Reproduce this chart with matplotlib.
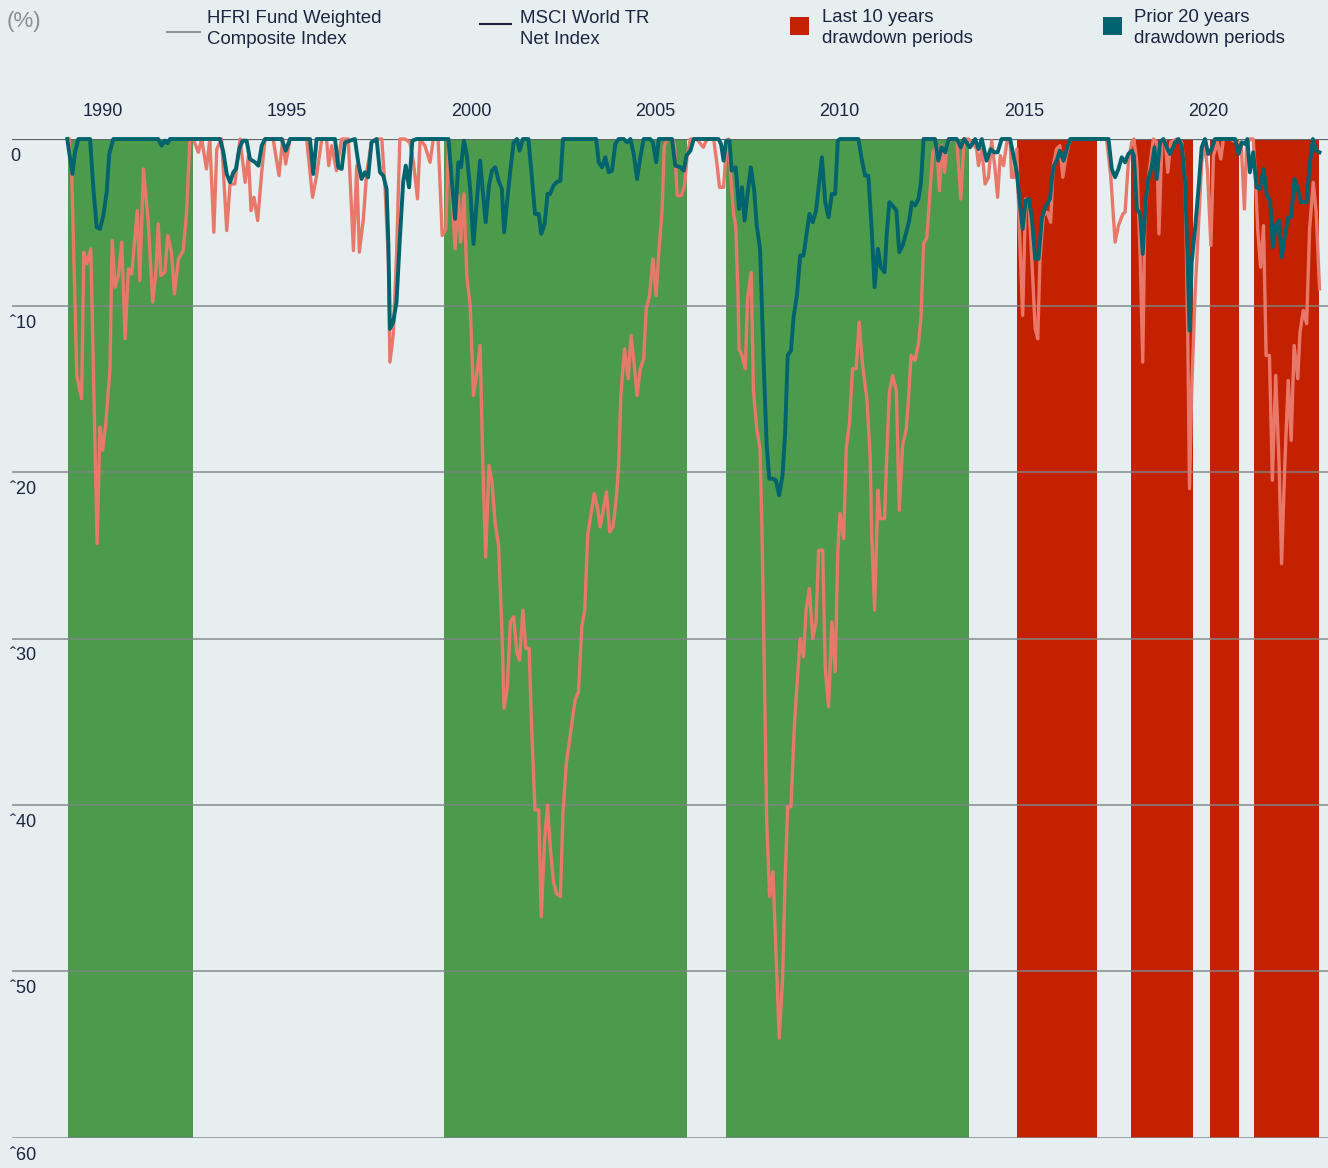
import matplotlib.pyplot as plt
from matplotlib.lines import Line2D
from matplotlib.patches import Rectangle

plt.rcParams['font.family'] = ['Liberation Sans', 'DejaVu Sans']

# drawdown series (%), dates as decimal years
hfri_years = [1989.03, 1989.17, 1989.24, 1989.33, 1989.65, 1989.74, 1989.83, 1989.92, 1990.01, 1990.10,
              1990.17, 1990.28, 1991.50, 1991.59, 1991.68, 1991.75, 1991.82, 1993.18, 1993.27, 1993.36,
              1993.45, 1993.54, 1993.61, 1993.70, 1993.79, 1993.90, 1993.99, 1994.13, 1994.22, 1994.31,
              1994.40, 1994.85, 1994.96, 1995.08, 1995.62, 1995.71, 1995.80, 1996.30, 1996.39, 1996.48,
              1996.57, 1996.84, 1996.93, 1997.02, 1997.11, 1997.20, 1997.29, 1997.43, 1997.52, 1997.61,
              1997.70, 1997.75, 1997.79, 1997.88, 1997.97, 1998.06, 1998.15, 1998.22, 1998.31, 1998.40,
              1998.52, 1999.38, 1999.47, 1999.56, 1999.65, 1999.72, 1999.80, 1999.88, 1999.97, 2000.06,
              2000.15, 2000.24, 2000.31, 2000.39, 2000.48, 2000.56, 2000.65, 2000.74, 2000.83, 2000.89,
              2000.98, 2001.06, 2001.15, 2001.24, 2001.31, 2001.40, 2001.55, 2001.63, 2001.73, 2001.83,
              2001.90, 2001.99, 2002.07, 2002.14, 2002.23, 2002.31, 2002.42, 2002.49, 2003.39, 2003.46,
              2003.55, 2003.64, 2003.73, 2003.82, 2003.91, 2004.00, 2004.14, 2004.23, 2004.32, 2004.41,
              2004.50, 2004.59, 2004.68, 2004.86, 2004.93, 2005.02, 2005.09, 2005.45, 2005.54, 2005.68,
              2005.77, 2005.84, 2005.95, 2006.04, 2006.71, 2006.78, 2006.85, 2006.92, 2007.01, 2007.07,
              2007.18, 2007.27, 2007.35, 2007.42, 2007.50, 2007.59, 2007.68, 2007.75, 2007.84, 2007.89,
              2007.95, 2008.02, 2008.09, 2008.19, 2008.27, 2008.36, 2008.45, 2008.52, 2008.59, 2008.68,
              2008.75, 2008.84, 2008.93, 2009.02, 2009.09, 2009.18, 2009.27, 2009.36, 2009.43, 2009.52,
              2009.61, 2009.70, 2009.79, 2009.88, 2009.95, 2010.01, 2010.51, 2010.60, 2010.69, 2010.78,
              2010.87, 2010.95, 2011.04, 2011.12, 2011.22, 2011.28, 2011.35, 2011.44, 2011.54, 2011.62,
              2011.71, 2011.81, 2011.89, 2011.96, 2012.05, 2012.14, 2012.21, 2012.28, 2012.59, 2012.68,
              2012.77, 2012.87, 2012.96, 2013.18, 2013.29, 2013.38, 2013.54, 2013.68, 2013.77, 2013.86,
              2013.99, 2014.10, 2014.20, 2014.29, 2014.40, 2014.63, 2014.72, 2014.81, 2014.90, 2014.97,
              2015.05, 2015.14, 2015.22, 2015.31, 2015.40, 2015.49, 2015.58, 2015.71, 2015.80, 2015.89,
              2015.98, 2016.08, 2016.17, 2016.26, 2017.30, 2017.39, 2017.48, 2017.57, 2017.66, 2017.75,
              2017.84, 2017.93, 2017.99, 2018.07, 2018.16, 2018.23, 2018.31, 2018.38, 2018.47, 2018.55,
              2018.61, 2018.70, 2018.79, 2018.88, 2018.97, 2019.11, 2019.20, 2019.29, 2019.38, 2019.45,
              2019.50, 2019.56, 2019.65, 2019.74, 2019.83, 2019.92, 2020.01, 2020.10, 2020.19, 2020.74,
              2020.83, 2020.92, 2021.01, 2021.07, 2021.14, 2021.23, 2021.32, 2021.41, 2021.51, 2021.60,
              2021.69, 2021.76, 2021.84, 2021.93, 2022.00, 2022.09, 2022.18, 2022.26, 2022.35, 2022.44,
              2022.53, 2022.68, 2022.76, 2022.85, 2022.94, 2023.03]
hfri_vals = [0, -2.1, -0.8, 0, 0, -3.0, -5.3, -5.4, -4.6, -3.2,
             -0.9, 0, 0, -0.4, -0.1, -0.25, 0, 0, -0.8, -2.1,
             -2.6, -2.0, -1.8, -0.6, -0.1, -0.1, -1.2, -1.4, -1.6, -0.4,
             0, 0, -0.7, 0, 0, -2.1, 0, 0, -1.7, -1.8,
             -0.2, 0, -1.4, -2.4, -2.0, -2.3, -0.2, 0, -2.0, -2.2,
             -3.0, -6.4, -11.4, -11.0, -9.8, -6.0, -2.6, -1.6, -2.9, -0.1,
             0, 0, -2.5, -4.8, -1.4, -1.7, -0.1, -1.0, -3.0, -6.3,
             -3.7, -1.3, -3.1, -5.0, -2.8, -1.9, -1.7, -2.5, -3.0, -5.6,
             -3.6, -1.9, -0.2, 0, -0.7, 0, 0, -1.9, -4.5, -4.5,
             -5.7, -5.1, -3.3, -3.3, -2.8, -2.6, -2.5, 0, 0, -1.4,
             -1.7, -1.1, -2.0, -1.9, -0.3, 0, 0, -0.2, 0, -0.9,
             -2.4, -1.1, 0, 0, -0.2, -1.4, 0, 0, -1.6, -1.7,
             -1.9, -1.0, -0.7, 0, 0, -0.3, -1.3, -0.1, -0.1, -1.9,
             -1.7, -4.2, -2.9, -4.9, -3.3, -1.7, -3.1, -5.2, -6.6, -10.0,
             -14.2, -18.4, -20.4, -20.4, -20.5, -21.4, -20.2, -17.7, -13.0, -12.7,
             -10.7, -9.4, -7.0, -7.0, -5.9, -4.5, -5.0, -4.3, -2.9, -1.1,
             -3.8, -4.7, -3.3, -3.3, -0.1, 0, 0, -1.2, -2.2, -2.2,
             -5.4, -8.9, -6.6, -7.7, -8.0, -5.7, -3.8, -4.0, -4.3, -6.8,
             -6.4, -5.6, -4.9, -3.8, -4.0, -3.6, -2.6, 0, 0, -1.3,
             -0.5, -0.8, 0, 0, -0.5, 0, -0.5, 0, -0.6, 0,
             -1.3, -0.6, -0.8, -0.8, 0, 0, -1.0, -2.0, -4.0, -5.4,
             -3.7, -3.6, -4.8, -7.2, -7.2, -4.8, -4.1, -3.6, -1.7, -1.3,
             -0.7, -1.3, -0.6, 0, 0, -1.8, -2.3, -1.8, -1.1, -1.4,
             -0.9, -0.7, -1.0, -4.2, -4.5, -6.9, -3.7, -2.4, -1.7, -0.5,
             -2.4, -0.2, 0, -0.5, -0.9, -0.2, 0, -0.4, -2.6, -7.4,
             -11.5, -7.4, -5.4, -3.1, -0.5, 0, -0.9, -0.6, 0, 0,
             -0.9, -0.2, -0.3, 0, -2.0, -0.8, -2.9, -3.0, -1.8, -3.4,
             -3.7, -6.5, -5.2, -4.9, -7.1, -5.8, -4.7, -4.7, -2.4, -3.0,
             -3.8, -3.8, -1.6, 0, -0.7, -0.8]

msci_years = [1989.08, 1989.15, 1989.29, 1989.42, 1989.48, 1989.56, 1989.67, 1989.84, 1989.92, 1989.99,
              1990.08, 1990.19, 1990.25, 1990.33, 1990.42, 1990.51, 1990.60, 1990.69, 1990.78, 1990.93,
              1991.00, 1991.10, 1991.23, 1991.35, 1991.43, 1991.50, 1991.57, 1991.68, 1991.76, 1991.86,
              1991.94, 1992.05, 1992.18, 1992.27, 1992.36, 1992.45, 1992.59, 1992.68, 1992.81, 1992.90,
              1993.01, 1993.09, 1993.22, 1993.36, 1993.45, 1993.58, 1993.72, 1993.86, 1993.95, 1994.02,
              1994.10, 1994.20, 1994.31, 1994.40, 1994.62, 1994.78, 1994.88, 1994.96, 1995.08, 1995.53,
              1995.69, 1995.80, 1995.94, 1996.07, 1996.13, 1996.21, 1996.34, 1996.48, 1996.66, 1996.80,
              1996.89, 1996.96, 1997.07, 1997.16, 1997.29, 1997.43, 1997.57, 1997.66, 1997.75, 1997.79,
              1997.88, 1997.97, 1998.06, 1998.20, 1998.33, 1998.43, 1998.54, 1998.61, 1998.74, 1998.88,
              1998.97, 1999.10, 1999.21, 1999.31, 1999.38, 1999.47, 1999.56, 1999.65, 1999.71, 1999.80,
              1999.88, 1999.97, 2000.06, 2000.15, 2000.24, 2000.31, 2000.39, 2000.48, 2000.56, 2000.65,
              2000.74, 2000.83, 2000.89, 2000.98, 2001.06, 2001.15, 2001.24, 2001.31, 2001.40, 2001.48,
              2001.57, 2001.64, 2001.73, 2001.83, 2001.90, 2001.99, 2002.07, 2002.14, 2002.23, 2002.31,
              2002.42, 2002.49, 2002.58, 2002.67, 2002.76, 2002.82, 2002.91, 2003.00, 2003.08, 2003.16,
              2003.25, 2003.34, 2003.43, 2003.50, 2003.59, 2003.67, 2003.76, 2003.85, 2003.94, 2004.00,
              2004.06, 2004.16, 2004.26, 2004.34, 2004.43, 2004.50, 2004.59, 2004.68, 2004.75, 2004.84,
              2004.93, 2005.02, 2005.09, 2005.18, 2005.24, 2005.33, 2005.45, 2005.52, 2005.59, 2005.70,
              2005.79, 2005.86, 2005.95, 2006.12, 2006.30, 2006.40, 2006.58, 2006.67, 2006.74, 2006.85,
              2006.92, 2006.98, 2007.05, 2007.12, 2007.18, 2007.24, 2007.27, 2007.35, 2007.44, 2007.50,
              2007.60, 2007.66, 2007.75, 2007.84, 2007.89, 2007.95, 2008.02, 2008.10, 2008.19, 2008.27,
              2008.36, 2008.45, 2008.52, 2008.59, 2008.68, 2008.77, 2008.84, 2008.93, 2009.02, 2009.09,
              2009.18, 2009.27, 2009.36, 2009.43, 2009.54, 2009.61, 2009.70, 2009.79, 2009.88, 2009.95,
              2010.01, 2010.11, 2010.18, 2010.27, 2010.35, 2010.45, 2010.53, 2010.62, 2010.74, 2010.83,
              2010.87, 2010.95, 2011.04, 2011.10, 2011.22, 2011.28, 2011.35, 2011.44, 2011.54, 2011.62,
              2011.71, 2011.81, 2011.87, 2011.94, 2012.05, 2012.14, 2012.21, 2012.28, 2012.37, 2012.44,
              2012.53, 2012.64, 2012.71, 2012.77, 2012.85, 2012.91, 2013.00, 2013.18, 2013.29, 2013.38,
              2013.50, 2013.59, 2013.72, 2013.77, 2013.86, 2013.95, 2014.04, 2014.13, 2014.22, 2014.29,
              2014.36, 2014.45, 2014.54, 2014.63, 2014.67, 2014.74, 2014.81, 2014.88, 2014.97, 2015.05,
              2015.14, 2015.22, 2015.31, 2015.38, 2015.44, 2015.53, 2015.64, 2015.73, 2015.80, 2015.89,
              2015.98, 2016.06, 2016.15, 2016.26, 2017.25, 2017.36, 2017.48, 2017.57, 2017.69, 2017.75,
              2017.84, 2017.93, 2017.99, 2018.07, 2018.16, 2018.23, 2018.29, 2018.38, 2018.52, 2018.61,
              2018.67, 2018.75, 2018.84, 2018.91, 2018.99, 2019.15, 2019.29, 2019.38, 2019.45, 2019.50,
              2019.56, 2019.65, 2019.74, 2019.83, 2019.92, 2019.99, 2020.08, 2020.15, 2020.26, 2020.35,
              2020.42, 2020.60, 2020.78, 2020.90, 2020.99, 2021.05, 2021.14, 2021.23, 2021.28, 2021.35,
              2021.43, 2021.51, 2021.58, 2021.67, 2021.75, 2021.84, 2021.93, 2022.00, 2022.09, 2022.18,
              2022.26, 2022.34, 2022.44, 2022.50, 2022.59, 2022.68, 2022.76, 2022.86, 2022.94, 2023.03]
msci_vals = [0, -2.0, -14.2, -15.6, -6.8, -7.5, -6.6, -24.3, -17.3, -18.7,
             -17.0, -13.8, -6.1, -8.9, -8.2, -6.2, -12.0, -7.8, -8.1, -4.3,
             -8.5, -1.8, -5.0, -9.8, -8.2, -5.1, -8.2, -8.0, -5.8, -6.8,
             -9.3, -7.2, -6.7, -4.4, 0, 0, -0.8, 0, -1.8, 0,
             -5.6, -0.6, 0, -5.5, -2.7, -2.7, 0, -2.6, -1.0, -4.3,
             -3.5, -4.9, -2.0, 0, 0, -2.2, 0, -1.5, 0, 0,
             -3.5, -2.2, 0, 0, -1.6, -0.4, -1.9, 0, 0, -6.7,
             -1.6, -6.8, -4.8, -2.0, -0.2, 0, 0, -3.0, -7.4, -13.4,
             -11.8, -7.0, 0, 0, -0.2, -1.4, -3.6, 0, -0.4, -1.4,
             0, 0, -5.8, -5.4, 0, -3.1, -6.6, -3.4, -6.2, -3.3,
             -8.3, -10.0, -15.4, -14.1, -12.4, -19.3, -25.1, -19.6, -20.6, -23.1,
             -24.4, -29.4, -34.2, -32.9, -29.0, -28.7, -30.9, -31.3, -28.3, -30.6,
             -30.6, -35.5, -40.3, -40.3, -46.7, -42.1, -40.0, -42.4, -44.6, -45.3,
             -45.5, -40.4, -37.5, -36.1, -34.6, -33.7, -33.2, -29.3, -28.3, -23.8,
             -22.5, -21.3, -22.2, -23.3, -22.2, -21.2, -23.6, -23.3, -21.5, -19.6,
             -15.4, -12.6, -14.4, -11.8, -13.7, -15.4, -13.8, -13.2, -10.2, -9.4,
             -7.2, -9.4, -6.8, -4.3, -0.4, 0, 0, -0.3, -3.4, -3.4,
             -2.8, -1.0, 0, 0, -0.5, 0, 0, -1.5, -2.9, -2.9,
             -0.7, 0, -2.4, -4.5, -5.2, -9.3, -12.6, -13.0, -13.8, -9.6,
             -8.0, -15.1, -17.4, -18.6, -23.3, -31.1, -41.0, -45.5, -44.0, -48.7,
             -54.0, -50.5, -44.5, -40.1, -40.1, -35.3, -32.9, -30.0, -31.1, -28.3,
             -27.0, -30.0, -29.0, -24.7, -24.7, -31.8, -34.1, -29.0, -32.0, -24.8,
             -22.5, -24.0, -18.6, -17.0, -13.8, -13.8, -11.0, -13.5, -15.6, -19.1,
             -23.7, -28.3, -21.1, -22.8, -22.8, -19.1, -15.2, -14.2, -15.1, -22.3,
             -18.4, -17.4, -15.6, -13.0, -13.3, -12.3, -10.7, -6.3, -5.9, -3.6,
             -0.8, -0.4, -3.1, -0.4, -2.0, -0.4, 0, 0, -3.6, 0,
             0, -0.2, -0.6, -1.6, -0.6, -2.7, -2.3, -0.1, -1.8, -3.5,
             -1.0, -1.6, -0.2, -0.1, -2.3, -2.3, -0.6, -5.4, -10.6, -3.6,
             -3.8, -7.3, -11.4, -12.0, -7.2, -4.6, -4.4, -5.0, -1.6, -0.6,
             -0.4, -2.3, -1.0, 0, 0, -2.2, -6.2, -5.2, -4.5, -4.4,
             -1.4, -0.2, 0, -1.4, -7.0, -13.4, -4.4, -2.4, 0, -0.2,
             -5.7, -0.2, -0.1, -2.0, -0.2, 0, -0.2, -2.4, -11.4, -21.0,
             -15.0, -9.4, -5.4, -1.4, -0.2, -2.0, -6.4, -1.0, -0.2, -1.2,
             0, 0, -0.2, -0.2, -4.2, -0.4, 0, 0, -1.8, -5.4,
             -7.7, -5.2, -13.0, -13.0, -20.5, -14.2, -19.4, -25.5, -19.4, -14.5,
             -18.1, -12.4, -14.4, -11.6, -10.3, -11.1, -5.4, -2.6, -4.4, -9.0]

# shaded drawdown periods (start, end)
prior_periods = [(1989.05, 1992.44), (1999.26, 2005.86), (2006.92, 2013.51)]
last10_periods = [(2014.82, 2016.99), (2017.91, 2019.60), (2020.06, 2020.84), (2021.25, 2023.01)]

x_ticks = [1990, 1995, 2000, 2005, 2010, 2015, 2020]
y_ticks = [0, -10, -20, -30, -40, -50, -60]
y_labels = ['0', 'ˆ10', 'ˆ20', 'ˆ30', 'ˆ40', 'ˆ50', 'ˆ60']

BG = '#e6eef0'
GREEN = '#4c9a4b'
RED = '#c42100'
SALMON = '#e8796a'
TEAL = '#00636e'
TXT = '#1d2541'

W, H = 1328, 1168
fig = plt.figure(figsize=(W / 100, H / 100), dpi=100, facecolor=BG)
ax = fig.add_axes([12 / W, 1 - 1138 / H, (1328 - 12) / W, (1138 - 139) / H], facecolor=BG)

for s, e in prior_periods:
    ax.axvspan(s, e, color=GREEN, lw=0, zorder=1)
for s, e in last10_periods:
    ax.axvspan(s, e, color=RED, lw=0, zorder=1)

for v in y_ticks[1:]:
    ax.axhline(v, color='#7d8587', lw=1.3, alpha=0.8, zorder=2)
ax.axhline(0, color='#5f6566', lw=1.6, zorder=2)

ax.plot(msci_years, msci_vals, color=SALMON, lw=2.4, zorder=3, clip_on=False,
        solid_joinstyle='round')
ax.plot(hfri_years, hfri_vals, color=TEAL, lw=2.8, zorder=4, clip_on=False,
        solid_joinstyle='round')

ax.set_xlim(1987.53, 2023.26)
ax.set_ylim(-60, 0)
for sp in ax.spines.values():
    sp.set_visible(False)

ax.xaxis.tick_top()
ax.set_xticks(x_ticks)
ax.set_xticklabels([str(t) for t in x_ticks])
ax.tick_params(axis='x', length=0, pad=13.5, labelsize=13, labelcolor=TXT)
ax.set_yticks([])
for v, lab in zip(y_ticks, y_labels):
    ax.annotate(lab, xy=(0, v), xycoords=('axes fraction', 'data'), xytext=(-2, -9),
                textcoords='offset pixels', ha='left', va='top', fontsize=13,
                color=TXT, annotation_clip=False)

# legend, drawn in figure pixels
def fx(x):
    return x / W

def fy(y):
    return 1 - y / H

fig.text(fx(7), fy(21), '(%)', fontsize=16, color='#8a8f93', va='center', ha='left')
fig.add_artist(Line2D([fx(167), fx(200)], [fy(32), fy(32)], color='#8c9496', lw=1.5))
fig.text(fx(207), fy(29), 'HFRI Fund Weighted\nComposite Index', fontsize=13.4,
         color=TXT, va='center', ha='left', linespacing=1.3)
fig.add_artist(Line2D([fx(480), fx(511)], [fy(24), fy(24)], color='#1d2541', lw=1.5))
fig.text(fx(520), fy(29), 'MSCI World TR\nNet Index', fontsize=13.4,
         color=TXT, va='center', ha='left', linespacing=1.3)
fig.add_artist(Rectangle((fx(790), fy(35)), 19 / W, 18 / H, color=RED, lw=0))
fig.text(fx(822), fy(28), 'Last 10 years\ndrawdown periods', fontsize=13.4,
         color=TXT, va='center', ha='left', linespacing=1.3)
fig.add_artist(Rectangle((fx(1103), fy(35)), 19 / W, 18 / H, color=TEAL, lw=0))
fig.text(fx(1134), fy(28), 'Prior 20 years\ndrawdown periods', fontsize=13.4,
         color=TXT, va='center', ha='left', linespacing=1.3)

plt.savefig('out.png', dpi=100, facecolor=BG)
